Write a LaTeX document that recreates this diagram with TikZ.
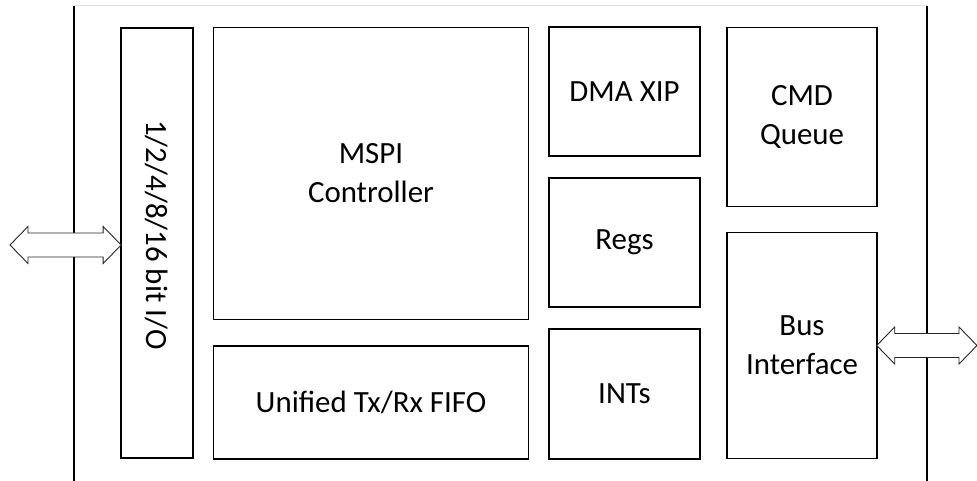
\documentclass[tikz,border=0pt]{standalone}
\usepackage{fontspec}
\setmainfont{Carlito}
\usetikzlibrary{calc,positioning}

\tikzset{
  blk/.style={draw=black, line width=1.6bp, inner sep=0pt, outer sep=0pt,
              align=center, font=\fontsize{31}{39}\selectfont},
  bigarrow/.style={draw=black!85, line width=0.9bp, fill=white},
  border/.style={black, line width=1.8bp},
}

% double block arrow between two points at the same height
\newcommand{\dblarrow}[2]{%
  \draw[bigarrow] (#1) -- ($(#1)+(18,-18.5)$) -- ($(#1)+(18,-12)$)
    -- ($(#2)+(-18,-12)$) -- ($(#2)+(-18,-18.5)$) -- (#2)
    -- ($(#2)+(-18,18.5)$) -- ($(#2)+(-18,12)$)
    -- ($(#1)+(18,12)$) -- ($(#1)+(18,18.5)$) -- cycle;}

\begin{document}
\begin{tikzpicture}[x=1bp, y=-1bp]
  \useasboundingbox (0,0) rectangle (977,481);

  % Define points
  \coordinate (TL) at (74,6);
  \coordinate (TR) at (927,6);
  \coordinate (BL) at (74,481);
  \coordinate (BR) at (927,481);

  % Outer frame
  \draw[black!12, line width=1bp] (TL) -- (TR);
  \draw[border] (TL) -- (BL);
  \draw[border] (TR) -- (BR);

  % Blocks
  \node[blk, rotate=-90, minimum width=432, minimum height=72] (io) at (157,243) {1/2/4/8/16 bit I/O\hspace*{16bp}};
  \node[blk, minimum width=316, minimum height=293] (mspi) at (371,173.5) {MSPI\\Controller};
  \node[blk, minimum width=316, minimum height=113] (fifo) at (371,402.5) {Unified Tx/Rx FIFO};
  \node[blk, minimum width=151, minimum height=129] (dma) at (624.5,91.5) {DMA XIP};
  \node[blk, minimum width=151, minimum height=129] (regs) at (624.5,242.5) {Regs};
  \node[blk, minimum width=151, minimum height=130] (ints) at (624.5,394) {INTs};
  \node[blk, minimum width=150, minimum height=180] (cmd) at (802,117) {CMD\\Queue};
  \node[blk, minimum width=150, minimum height=227] (bus) at (802,345.5) {Bus\\Interface};

  % Arrows
  \coordinate (edgeL) at (10,245);
  \coordinate (ioL) at ($(io.south)+(0,2)$);
  \coordinate (edgeR) at (977,345.5);

  \dblarrow{edgeL}{ioL}
  \dblarrow{bus.east}{edgeR}

\end{tikzpicture}
\end{document}
